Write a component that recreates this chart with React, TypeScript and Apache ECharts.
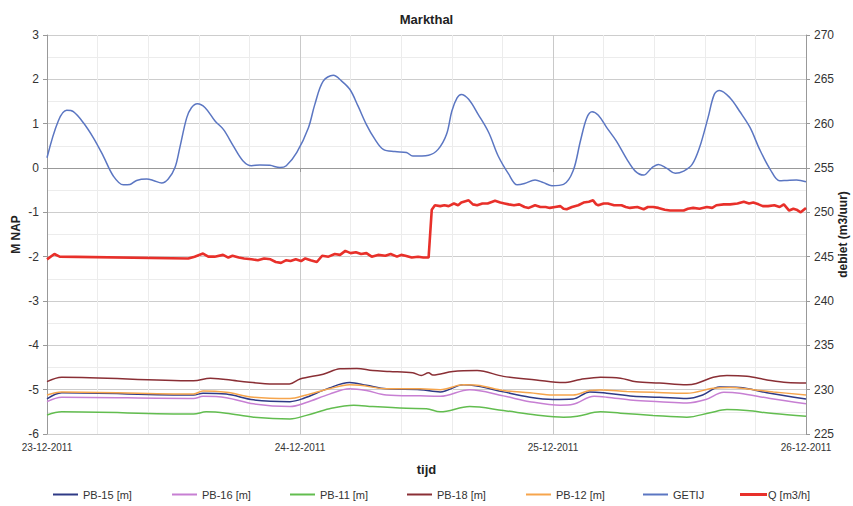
import React, { useEffect, useRef } from "react";
import * as echarts from "echarts";

const TITLE = "Markthal";
const X_TICK_LABELS = ["23-12-2011", "24-12-2011", "25-12-2011", "26-12-2011"];
const LEGEND_NAMES = ["PB-15 [m]", "PB-16 [m]", "PB-11 [m]", "PB-18 [m]", "PB-12 [m]", "GETIJ", "Q [m3/h]"];

// [hour since 23-12-2011 00:00, value]
const GETIJ: number[][] = [
  [0, 0.23], [1.07, 1.06], [1.87, 1.3], [2.5, 1.27], [3.45, 1.02], [4.4, 0.68], [5.34, 0.27], [6.29, -0.18],
  [7.24, -0.38], [7.87, -0.37], [8.5, -0.28], [9.46, -0.25], [10.08, -0.28], [10.88, -0.34], [11.5, -0.25],
  [12.14, 0.01], [12.6, 0.46], [13.25, 1.13], [13.7, 1.36], [14.26, 1.45], [15.0, 1.36], [15.94, 1.06],
  [16.73, 0.87], [17.67, 0.5], [18.6, 0.16], [19.4, 0.05], [20.2, 0.07], [21.15, 0.06], [22.1, 0.01],
  [22.7, 0.05], [23.7, 0.35], [24.8, 0.91], [25.4, 1.43], [26.2, 1.96], [27.16, 2.09], [27.95, 1.96],
  [28.74, 1.77], [29.5, 1.4], [30.3, 0.98], [31.1, 0.65], [31.9, 0.42], [33.0, 0.37], [34.1, 0.35],
  [34.7, 0.27], [36.2, 0.29], [37.1, 0.42], [37.9, 0.76], [38.4, 1.28], [38.9, 1.58], [39.3, 1.66],
  [40.0, 1.55], [40.9, 1.21], [41.9, 0.8], [42.8, 0.27], [43.8, -0.14], [44.6, -0.38], [45.3, -0.35],
  [46.3, -0.27], [47.1, -0.33], [47.9, -0.4], [49.0, -0.37], [49.9, -0.07], [50.6, 0.61], [51.2, 1.13],
  [51.7, 1.27], [52.3, 1.19], [53.1, 0.91], [54.0, 0.61], [55.0, 0.2], [55.8, -0.07], [56.6, -0.16],
  [57.4, 0.01], [58.0, 0.08], [58.8, -0.01], [59.6, -0.12], [60.4, -0.07], [61.2, 0.08], [61.9, 0.46],
  [62.7, 1.13], [63.3, 1.66], [63.8, 1.75], [64.8, 1.58], [65.7, 1.28], [66.7, 0.91], [67.6, 0.42],
  [68.6, -0.03], [69.5, -0.29], [70.2, -0.28], [71.1, -0.27], [72, -0.31],
];

const Q: number[][] = [
  [0, 244.7], [0.7, 245.3], [1.2, 245.0], [13.4, 244.8], [14.0, 245.0], [14.8, 245.35], [15.3, 245.0],
  [15.9, 245.0], [16.7, 245.2], [17.2, 244.9], [17.6, 245.1], [18.2, 244.9], [18.7, 244.8], [19.4, 244.7],
  [20.0, 244.6], [20.6, 244.8], [21.2, 244.7], [21.7, 244.4], [22.2, 244.3], [22.7, 244.6], [23.1, 244.5],
  [23.6, 244.7], [24.1, 244.5], [24.5, 244.8], [25.0, 244.6], [25.6, 244.4], [26.1, 245.1], [26.7, 245.0],
  [27.3, 245.3], [27.8, 245.2], [28.3, 245.65], [28.8, 245.4], [29.3, 245.5], [29.8, 245.3], [30.3, 245.4],
  [30.8, 245.0], [31.4, 245.2], [32.1, 245.1], [32.6, 245.3], [33.2, 245.0], [33.6, 245.2], [34.0, 245.1],
  [34.6, 244.9], [35.2, 245.0], [35.7, 244.9], [36.2, 244.9], [36.5, 250.3], [36.8, 250.8], [37.3, 250.7],
  [37.7, 250.8], [38.1, 250.7], [38.6, 251.0], [39.0, 250.8], [39.3, 251.1], [40.0, 251.35], [40.4, 250.9],
  [40.8, 250.8], [41.3, 251.0], [41.8, 251.0], [42.5, 251.3], [43.0, 251.1], [43.4, 251.0], [43.8, 250.9],
  [44.3, 250.8], [44.8, 250.9], [45.3, 250.6], [45.7, 250.5], [46.3, 250.8], [46.8, 250.6], [47.3, 250.6],
  [47.7, 250.5], [48.2, 250.6], [48.7, 250.7], [49.0, 250.4], [49.3, 250.35], [49.8, 250.6], [50.4, 250.8],
  [50.9, 251.1], [51.4, 251.2], [51.8, 251.35], [52.1, 250.9], [52.3, 250.8], [52.8, 251.0], [53.2, 251.0],
  [53.8, 250.8], [54.5, 250.8], [54.9, 250.6], [55.3, 250.5], [56.0, 250.6], [56.6, 250.35], [57.0, 250.6],
  [57.5, 250.6], [58.0, 250.5], [58.6, 250.3], [59.1, 250.2], [59.8, 250.2], [60.4, 250.2], [60.8, 250.4],
  [61.3, 250.5], [61.9, 250.4], [62.6, 250.6], [63.1, 250.5], [63.5, 250.8], [64.2, 250.9], [64.8, 250.9],
  [65.5, 251.0], [66.1, 251.2], [66.6, 251.0], [67.0, 251.1], [67.5, 250.9], [67.9, 250.7], [68.4, 250.7],
  [69.0, 250.8], [69.5, 250.6], [69.9, 250.9], [70.4, 250.2], [70.8, 250.4], [71.1, 250.3], [71.5, 250.0],
  [72, 250.5],
];

const PB18: number[][] = [
  [0, -4.82], [1.4, -4.72], [13.9, -4.8], [15.5, -4.74], [18.3, -4.81], [21.5, -4.87], [23.0, -4.87],
  [24.0, -4.76], [26.2, -4.65], [27.8, -4.53], [29.4, -4.52], [30.9, -4.57], [32.5, -4.59], [34.7, -4.62],
  [35.5, -4.68], [36.2, -4.62], [36.6, -4.67], [38.5, -4.59], [40.8, -4.57], [43.3, -4.7], [46.4, -4.78],
  [49.0, -4.84], [50.6, -4.77], [52.5, -4.72], [54.4, -4.74], [55.9, -4.82], [58.1, -4.85], [60.7, -4.89],
  [61.6, -4.86], [63.2, -4.72], [64.5, -4.68], [66.4, -4.7], [68.3, -4.78], [70.2, -4.84], [72, -4.85],
];

const PB12: number[][] = [
  [0, -5.12], [1.4, -5.05], [13.9, -5.1], [14.8, -5.03], [17.0, -5.06], [19.6, -5.17], [23.05, -5.2],
  [24.6, -5.12], [26.8, -4.98], [28.7, -4.89], [29.7, -4.9], [32.2, -4.98], [35.4, -4.98], [37.3, -5.0],
  [39.5, -4.89], [40.8, -4.9], [43.3, -5.02], [45.8, -5.07], [48.0, -5.12], [49.9, -5.12], [51.5, -5.02],
  [52.5, -5.01], [55.0, -5.04], [57.5, -5.06], [60.7, -5.08], [63.2, -4.97], [64.8, -4.95], [67.0, -5.0],
  [68.9, -5.05], [72, -5.12],
];

const PB15: number[][] = [
  [0, -5.21], [1.4, -5.07], [13.9, -5.12], [14.8, -5.08], [17.0, -5.1], [19.6, -5.23], [23.05, -5.27],
  [24.3, -5.2], [26.8, -4.96], [28.7, -4.84], [30.3, -4.9], [32.2, -4.98], [35.4, -5.0], [37.3, -5.05],
  [39.5, -4.89], [40.8, -4.92], [43.3, -5.05], [45.8, -5.17], [48.0, -5.22], [49.9, -5.21], [51.5, -5.05],
  [53.1, -5.08], [55.6, -5.15], [58.1, -5.17], [60.7, -5.2], [62.2, -5.12], [63.8, -4.94], [65.7, -4.95],
  [68.3, -5.07], [72, -5.21],
];

const PB16: number[][] = [
  [0, -5.27], [1.4, -5.17], [13.9, -5.2], [14.8, -5.15], [17.0, -5.18], [19.6, -5.32], [23.05, -5.38],
  [24.6, -5.29], [26.8, -5.1], [28.7, -4.98], [30.3, -5.02], [32.2, -5.12], [35.4, -5.14], [37.3, -5.15],
  [40.1, -5.0], [43.3, -5.14], [45.8, -5.27], [48.7, -5.35], [49.9, -5.33], [51.9, -5.15], [53.1, -5.17],
  [55.6, -5.24], [58.1, -5.27], [60.7, -5.3], [62.5, -5.22], [64.2, -5.06], [65.7, -5.08], [68.6, -5.2],
  [72, -5.32],
];

const PB11: number[][] = [
  [0, -5.57], [1.4, -5.5], [13.9, -5.55], [15.1, -5.5], [17.0, -5.53], [19.6, -5.62], [23.05, -5.66],
  [24.6, -5.58], [26.8, -5.43], [29.1, -5.35], [30.9, -5.38], [34.1, -5.42], [36.0, -5.43], [37.3, -5.5],
  [40.1, -5.38], [43.3, -5.47], [46.4, -5.57], [49.0, -5.62], [50.3, -5.6], [52.5, -5.5], [54.4, -5.53],
  [57.5, -5.58], [60.7, -5.62], [62.9, -5.52], [64.5, -5.45], [66.4, -5.47], [68.9, -5.54], [72, -5.6],
];

const COLORS: Record<string, string> = {
  "PB-15 [m]": "#2f3a86",
  "PB-16 [m]": "#c77fd3",
  "PB-11 [m]": "#62bd4f",
  "PB-18 [m]": "#8a2f35",
  "PB-12 [m]": "#f6a54c",
  GETIJ: "#5b76c2",
  "Q [m3/h]": "#e8302a",
};

const LEGEND_LEFT = [53, 172, 290, 407, 526, 643, 740];

const FONT = "Liberation Sans, Arial, sans-serif";

export default function App() {
  const ref = useRef<HTMLDivElement>(null);
  useEffect(() => {
    if (!ref.current) return;
    const chart = echarts.init(ref.current, undefined, { renderer: "svg" });
    const seriesData: Record<string, number[][]> = {
      "PB-15 [m]": PB15,
      "PB-16 [m]": PB16,
      "PB-11 [m]": PB11,
      "PB-18 [m]": PB18,
      "PB-12 [m]": PB12,
      GETIJ: GETIJ,
      "Q [m3/h]": Q,
    };
    const series = LEGEND_NAMES.map((name) => {
      const isQ = name === "Q [m3/h]";
      return {
        name,
        type: "line",
        yAxisIndex: isQ ? 1 : 0,
        data: seriesData[name],
        showSymbol: false,
        symbol: "none",
        smooth: isQ ? false : 0.35,
        lineStyle: { color: COLORS[name], width: isQ ? 2.6 : 1.5 },
        itemStyle: { color: COLORS[name] },
        z: isQ ? 3 : 2,
      };
    });
    const legends = LEGEND_NAMES.map((name, i) => ({
      left: LEGEND_LEFT[i],
      bottom: 6,
      padding: 0,
      itemWidth: name === "Q [m3/h]" ? 27 : 25,
      itemHeight: name === "Q [m3/h]" ? 3 : 2,
      icon: "rect",
      textStyle: { fontFamily: FONT, fontSize: 11, color: "#333", padding: [0, 0, 0, name === "Q [m3/h]" ? -4 : 0] },
      data: [name],
    }));
    chart.setOption({
      animation: false,
      backgroundColor: "#ffffff",
      textStyle: { fontFamily: FONT },
      title: {
        text: TITLE,
        left: "center",
        top: 8,
        textStyle: { fontFamily: FONT, fontSize: 13, fontWeight: "bold", color: "#222" },
      },
      grid: { left: 47, right: 47, top: 35, bottom: 72, containLabel: false, outerBoundsMode: "none" },
      legend: legends,
      xAxis: {
        type: "value",
        min: 0,
        max: 72,
        interval: 24,
        name: "tijd",
        nameLocation: "middle",
        nameGap: 29,
        nameMoveOverlap: false,
        nameTextStyle: { fontFamily: FONT, fontSize: 13, fontWeight: "bold", color: "#222" },
        axisLine: { show: true, lineStyle: { color: "#999" } },
        axisTick: { show: true, length: 4, lineStyle: { color: "#999" } },
        axisLabel: {
          fontFamily: FONT,
          fontSize: 10,
          color: "#333",
          margin: 8,
          formatter: (v: number) => X_TICK_LABELS[Math.round(v / 24)] ?? "",
        },
        splitLine: { show: true, lineStyle: { color: "#c9c9c9", width: 1 } },
        minorTick: { show: false, splitNumber: 5 },
        minorSplitLine: { show: true, lineStyle: { color: "#ececec", width: 1 } },
      },
      yAxis: [
        {
          type: "value",
          min: -6,
          max: 3,
          interval: 1,
          position: "left",
          name: "M NAP",
          nameLocation: "middle",
          nameRotate: 90,
          nameGap: 25,
          nameMoveOverlap: false,
          nameTextStyle: { fontFamily: FONT, fontSize: 12, fontWeight: "bold", color: "#222" },
          axisLine: { show: true, lineStyle: { color: "#999" } },
          axisTick: { show: true, length: 4, lineStyle: { color: "#999" } },
          axisLabel: { fontFamily: FONT, fontSize: 12, color: "#333", margin: 8 },
          splitLine: { show: true, lineStyle: { color: "#cdcdcd", width: 1 } },
          minorTick: { show: false, splitNumber: 2 },
          minorSplitLine: { show: true, lineStyle: { color: "#ececec", width: 1 } },
        },
        {
          type: "value",
          min: 225,
          max: 270,
          interval: 5,
          position: "right",
          name: "debiet (m3/uur)",
          nameLocation: "middle",
          nameRotate: 90,
          nameGap: 31,
          nameMoveOverlap: false,
          nameTextStyle: { fontFamily: FONT, fontSize: 12, fontWeight: "bold", color: "#222" },
          axisLine: { show: true, lineStyle: { color: "#999" } },
          axisTick: { show: true, length: 4, lineStyle: { color: "#999" } },
          axisLabel: { fontFamily: FONT, fontSize: 12, color: "#333", margin: 8 },
          splitLine: { show: false },
        },
      ],
      series,
    });
    return () => chart.dispose();
  }, []);
  return <div ref={ref} style={{ width: 853, height: 506, position: "absolute", left: 0, top: 0 }} />;
}
